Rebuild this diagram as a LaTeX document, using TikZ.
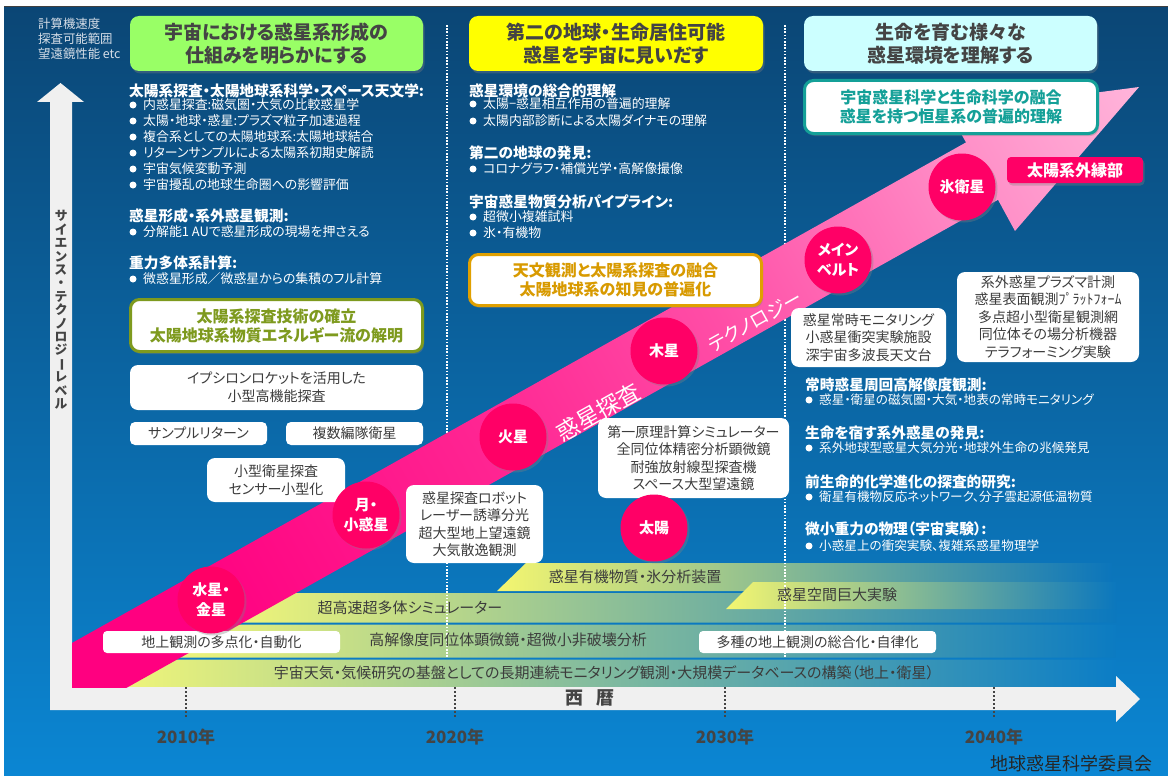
\documentclass[tikz,border=0pt]{standalone}
\usepackage{fontspec}
\setmainfont{Noto Sans CJK JP}[RawFeature=+palt]
\usetikzlibrary{shadows}
\definecolor{bgtop}{HTML}{0B4675}
\definecolor{bgbot}{HTML}{0B86D3}
\definecolor{axisw}{HTML}{F0F0F0}
\definecolor{dgray}{HTML}{444444}
\definecolor{tgray}{HTML}{3C3C3C}
\definecolor{hgreen}{HTML}{99FF66}
\definecolor{hyellow}{HTML}{FFFF00}
\definecolor{hcyan}{HTML}{CCFFFF}
\definecolor{tealc}{HTML}{14A098}
\definecolor{goldb}{HTML}{E0A000}
\definecolor{goldt}{HTML}{D89A00}
\definecolor{oliveC}{HTML}{7E9A1E}
\definecolor{mag}{HTML}{FF0066}
\definecolor{barY}{HTML}{EEF47A}
\definecolor{barM}{HTML}{A9D2A8}
\definecolor{barYa}{HTML}{F4F670}
\definecolor{barMa}{HTML}{9ACCB4}
\definecolor{barRa}{HTML}{0B75BB}
\definecolor{barRs}{HTML}{0B77BD}
\definecolor{barRb}{HTML}{0B78BE}
\definecolor{barRc}{HTML}{0B7BC2}
\definecolor{barRd}{HTML}{0B7DC6}
\definecolor{lightt}{HTML}{D6DEE8}
\pgfdeclarehorizontalshading{arrowsh}{100bp}{rgb(0bp)=(1,0,0.502); rgb(30bp)=(1,0,0.502); rgb(47bp)=(1,0.145,0.573); rgb(60bp)=(1,0.302,0.651); rgb(74bp)=(1,0.549,0.776); rgb(85bp)=(1,0.722,0.863); rgb(100bp)=(1,0.918,0.961)}
\begin{document}
\begin{tikzpicture}[x=1pt,y=-1pt,
  shd/.style={drop shadow={opacity=0.35,shadow xshift=1.5pt,shadow yshift=-2.5pt}},
  hdr/.style={shd,rounded corners=9pt,minimum width=293pt,minimum height=55pt,align=center,text=dgray,font=\fontsize{19}{23}\selectfont\bfseries},
  frm/.style={shd,rounded corners=9pt,fill=white,line width=3pt,align=center,font=\fontsize{16}{19}\selectfont\bfseries},
  wbox/.style={rounded corners=8pt,fill=white,align=center,text=tgray,font=\fontsize{14}{17.5}\selectfont,inner sep=0pt},
  slab/.style={rounded corners=4pt,fill=white,align=center,text=tgray,font=\fontsize{14}{17}\selectfont,inner sep=0pt},
  headl/.style={anchor=west,text=white,font=\fontsize{14.7}{16}\selectfont\bfseries,inner sep=0pt},
  bul/.style={anchor=west,text=white,font=\fontsize{12.9}{15}\selectfont,inner sep=0pt},
  bulr/.style={anchor=west,text=white,font=\fontsize{12.6}{15}\selectfont,inner sep=0pt},
  tl/.style={anchor=west,text=lightt,font=\fontsize{12.4}{14}\selectfont,inner sep=0pt},
  planet/.style={circle,fill=mag,minimum size=67pt,inner sep=0pt,text=white,align=center,font=\fontsize{15}{20}\selectfont\bfseries,drop shadow={opacity=0.35,shadow xshift=2pt,shadow yshift=-2pt}},
  bartext/.style={text=tgray,font=\fontsize{15}{18}\selectfont,inner sep=0pt},
  yearlab/.style={text=dgray,font=\fontsize{17}{20}\selectfont\bfseries,inner sep=0pt},
  dotsep/.style={white,line width=1.6pt,dash pattern=on 1.6pt off 1.6pt},
  tickl/.style={dgray,line width=2.2pt,dash pattern=on 2pt off 2pt}]
\useasboundingbox (0,0) rectangle (1168,776);
\fill[white] (0,0) rectangle (1168,776);
\shade[top color=bgtop,bottom color=bgbot] (4,7) rectangle (1168,776);
\draw[black!75,line width=1.2pt] (4,6.4) -- (1168,6.4);
% bottom bars
\shade[left color=barY,middle color=barM,right color=barRd] (174.1,659.5) -- (1116,659.5) -- (1116,687) -- (125,687) -- cycle;
\shade[left color=barY,middle color=barM,right color=barRc] (236.6,624.5) -- (1116,624.5) -- (1116,657.5) -- (177.7,657.5) -- cycle;
\shade[left color=barY,middle color=barM,right color=barRb] (292.9,593) -- (1116,593) -- (1116,622.5) -- (240.2,622.5) -- cycle;
\shade[left color=barYa,middle color=barMa,right color=barRa] (497,591) -- (526,563) -- (1112,563) -- (1112,591) -- cycle;
\shade[left color=barYa,middle color=barMa,right color=barRs] (726,609) -- (753,582) -- (1116,582) -- (1116,609) -- cycle;
% separators
\draw[dotsep] (447,25) -- (447,658);
\draw[dotsep] (785,25) -- (785,658);
% axes
\fill[axisw] (50,102) -- (37,102) -- (60.5,83) -- (84,102) -- (72,102) -- (72,687) -- (1116,687) -- (1116,676) -- (1140,699) -- (1116,722) -- (1116,710) -- (50,710) -- cycle;
% big arrow
\begin{scope}
\clip (72,0) rectangle (1168,687);
\shade[shading=arrowsh,shading angle=29.25] (-50,711.3) -- (966,142.4) -- (949,112) -- (1139,87) -- (1015,231) -- (998,199.8) -- (0,758.7) -- cycle;
\end{scope}
\foreach \x in {186,455,725,994} \draw[tickl] (\x,687) -- (\x,718);
% top-left
\node[tl] (tl1) at (38,24) {計算機速度};
\node[tl] (tl2) at (38,39) {探査可能範囲};
\node[tl] (tl3) at (38,54) {望遠鏡性能 etc};
% headers
\node[hdr,fill=hgreen] (h1) at (276.5,43.5) {宇宙における惑星系形成の\\仕組みを明らかにする};
\node[hdr,fill=hyellow,minimum width=294pt] (h2) at (616,43.5) {第二の地球・生命居住可能\\惑星を宇宙に見いだす};
\node[hdr,fill=hcyan] (h3) at (950.5,43.5) {生命を育む様々な\\惑星環境を理解する};
\node[frm,draw=tealc,text=tealc,minimum width=293pt,minimum height=53pt] (f1) at (951,107) {宇宙惑星科学と生命科学の融合\\惑星を持つ恒星系の普遍的理解};
\node[frm,draw=goldb,text=goldt,minimum width=292pt,minimum height=51pt] (f2) at (615.5,280) {天文観測と太陽系探査の融合\\太陽地球系の知見の普遍化};
\node[frm,draw=oliveC,text=oliveC,minimum width=292pt,minimum height=52pt] (f3) at (276.5,325.5) {太陽系探査技術の確立\\太陽地球系物質エネルギー流の解明};
% left column
\node[headl] (a0) at (129,91) {太陽系探査・太陽地球系科学・スペース天文学:};
\node[bul] (a1) at (143,105) {内惑星探査:磁気圏・大気の比較惑星学};
\node[bul] (a2) at (143,121) {太陽・地球・惑星:プラズマ粒子加速過程};
\node[bul] (a3) at (143,137) {複合系としての太陽地球系:太陽地球結合};
\node[bul] (a4) at (143,153) {リターンサンプルによる太陽系初期史解読};
\node[bul] (a5) at (143,169) {宇宙気候変動予測};
\node[bul] (a6) at (143,185) {宇宙擾乱の地球生命圏への影響評価};
\node[headl] (a7) at (129,216) {惑星形成・系外惑星観測:};
\node[bul] (a8) at (143,232) {分解能1 AUで惑星形成の現場を押さえる};
\node[headl] (a9) at (129,263) {重力多体系計算:};
\node[bul] (a10) at (143,279) {微惑星形成／微惑星からの集積のフル計算};
\foreach \y in {105,121,137,153,169,185,232,279} \fill[white] (133,\y) circle (3.5);
% middle column
\node[headl] (b0) at (469,91) {惑星環境の総合的理解};
\node[bul] (b1) at (483,104) {太陽−惑星相互作用の普遍的理解};
\node[bul] (b2) at (483,121) {太陽内部診断による太陽ダイナモの理解};
\node[headl] (b3) at (469,153) {第二の地球の発見:};
\node[bul] (b4) at (483,169) {コロナグラフ・補償光学・高解像撮像};
\node[headl] (b5) at (469,202) {宇宙惑星物質分析パイプライン:};
\node[bul] (b6) at (483,217) {超微小複雑試料};
\node[bul] (b7) at (483,233) {氷・有機物};
\foreach \y in {104,121,169,217,233} \fill[white] (473,\y) circle (3.5);
% right column
\node[headl] (r0) at (805,385) {常時惑星周回高解像度観測:};
\node[bulr] (r1) at (819,400) {惑星・衛星の磁気圏・大気・地表の常時モニタリング};
\node[headl] (r2) at (805,433) {生命を宿す系外惑星の発見:};
\node[bulr] (r3) at (819,448) {系外地球型惑星大気分光・地球外生命の兆候発見};
\node[headl] (r4) at (805,482) {前生命的化学進化の探査的研究:};
\node[bulr] (r5) at (819,497) {衛星有機物反応ネットワーク、分子雲起源低温物質};
\node[headl] (r6) at (805,529) {微小重力の物理（宇宙実験）:};
\node[bulr] (r7) at (819,546) {小惑星上の衝突実験、複雑系惑星物理学};
\foreach \y in {400,448,497,546} \fill[white] (809,\y) circle (3.5);
% white boxes
\node[wbox,minimum width=293pt,minimum height=45pt,font=\fontsize{14}{18}\selectfont] (w1) at (276.5,387.5) {イプシロンロケットを活用した\\小型高機能探査};
\node[wbox,rounded corners=5pt,minimum width=137pt,minimum height=23pt] (w2) at (198.5,433.5) {サンプルリターン};
\node[wbox,rounded corners=5pt,minimum width=137pt,minimum height=23pt] (w3) at (354.5,433.5) {複数編隊衛星};
\node[wbox,minimum width=138pt,minimum height=44pt] (w4) at (276,480) {小型衛星探査\\センサー小型化};
\node[wbox,minimum width=137pt,minimum height=78pt] (w5) at (474.5,524) {惑星探査ロボット\\レーザー誘導分光\\超大型地上望遠鏡\\大気散逸観測};
\node[wbox,minimum width=191pt,minimum height=80pt] (w6) at (693.5,458) {第一原理計算シミュレーター\\全同位体精密分析顕微鏡\\耐強放射線型探査機\\スペース大型望遠鏡};
\node[wbox,minimum width=155pt,minimum height=59pt] (w7) at (868.5,337.5) {惑星常時モニタリング\\小惑星衝突実験施設\\深宇宙多波長天文台};
\node[wbox,minimum width=182pt,minimum height=90pt] (w8) at (1048,317) {系外惑星プラズマ計測\\惑星表面観測ﾌﾟﾗｯﾄﾌｫｰﾑ\\多点超小型衛星観測網\\同位体その場分析機器\\テラフォーミング実験};
% bar texts
\node[bartext] (t1) at (635,577) {惑星有機物質・氷分析装置};
\node[bartext] (t2) at (837,595) {惑星空間巨大実験};
\node[bartext] (t3) at (410,608) {超高速超多体シミュレーター};
\node[bartext] (t4) at (508,640) {高解像度同位体顕微鏡・超微小非破壊分析};
\node[bartext] (t5) at (604,673) {宇宙天気・気候研究の基盤としての長期連続モニタリング観測・大規模データベースの構築（地上・衛星）};
\node[slab,minimum width=237pt,minimum height=22pt] (s1) at (221.5,642) {地上観測の多点化・自動化};
\node[slab,minimum width=237pt,minimum height=22pt] (s2) at (817.5,642) {多種の地上観測の総合化・自律化};
% arrow labels
\node[text=white,font=\fontsize{23}{23}\selectfont,rotate=29.25,inner sep=0pt] (ar1) at (598,412) {惑星探査};
\node[text=white,font=\fontsize{19}{19}\selectfont,rotate=29.25,inner sep=0pt] (ar2) at (755,321) {テクノロジー};
% planets
\node[planet] (p1) at (211,600) {水星・\\金星};
\node[planet] (p2) at (366,515) {月・\\小惑星};
\node[planet] (p3) at (513,437) {火星};
\node[planet] (p4) at (664,351) {木星};
\node[planet] (p5) at (654,528) {太陽};
\node[planet] (p6) at (838,260) {メイン\\ベルト};
\node[planet] (p7) at (962,187) {氷衛星};
\node[shd,fill=mag,rounded corners=4pt,minimum width=136pt,minimum height=26pt,text=white,font=\fontsize{16}{18}\selectfont\bfseries,inner sep=0pt] (edge) at (1075,170) {太陽系外縁部};
% axis labels
\node[text=dgray,align=center,font=\fontsize{12.8}{13.4}\selectfont\bfseries,inner sep=0pt] (ylab) at (61,310) {サ\\イ\\エ\\ン\\ス\\・\\テ\\ク\\ノ\\ロ\\ジ\\\rotatebox[origin=c]{-90}{ー}\\レ\\ベ\\ル};
\node[text=dgray,font=\fontsize{18}{20}\selectfont\bfseries,inner sep=0pt] (xlab) at (589.5,698) {西\hspace{13pt}暦};
\node[yearlab] (y1) at (186,737) {2010年};
\node[yearlab] (y2) at (455,737) {2020年};
\node[yearlab] (y3) at (725,737) {2030年};
\node[yearlab] (y4) at (994,737) {2040年};
\node[text=black!85,font=\fontsize{18}{20}\selectfont,inner sep=0pt] (org) at (1071,764) {地球惑星科学委員会};
\end{tikzpicture}
\end{document}
